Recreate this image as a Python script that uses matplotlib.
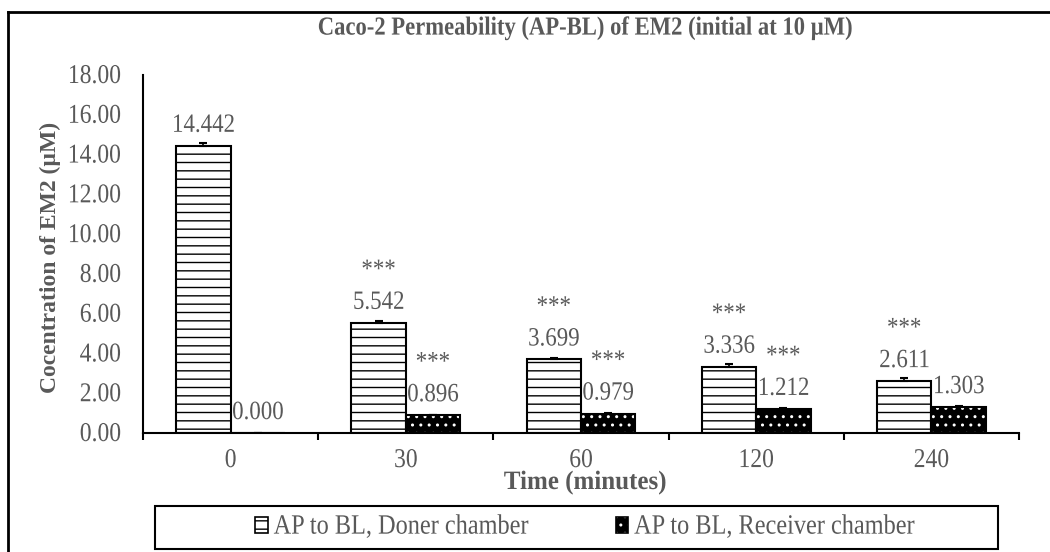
import matplotlib
matplotlib.use("Agg")
import matplotlib.pyplot as plt
from matplotlib.patches import Patch, Rectangle
from matplotlib.lines import Line2D
from matplotlib.legend_handler import HandlerTuple
from matplotlib.patheffects import AbstractPathEffect
from matplotlib.transforms import Affine2D
from matplotlib.text import Text
import numpy as np

# Data
times = ["0", "30", "60", "120", "240"]
donor = [14.442, 5.542, 3.699, 3.336, 2.611]
donor_err = [0.15, 0.08, 0.07, 0.12, 0.17]
receiver = [0.000, 0.896, 0.979, 1.212, 1.303]
receiver_err = [0.00, 0.03, 0.03, 0.03, 0.05]
donor_sig = ["", "***", "***", "***", "***"]
receiver_sig = ["", "***", "***", "***", ""]
y_ticks = [0, 2, 4, 6, 8, 10, 12, 14, 16, 18]

GRAY = "#595959"
FONT = "Liberation Serif"
plt.rcParams["font.family"] = [FONT, "DejaVu Serif"]
plt.rcParams["hatch.linewidth"] = 1.0


class VStretch(AbstractPathEffect):
    """Stretch glyphs vertically (in the text's own frame) from the baseline."""

    def __init__(self, sy):
        super().__init__()
        self.sy = sy

    def draw_path(self, renderer, gc, tpath, affine, rgbFace=None):
        renderer.draw_path(gc, tpath, Affine2D().scale(1, self.sy) + affine, rgbFace)


W, H = 1050, 552
fig = plt.figure(figsize=(W / 100, H / 100), dpi=100)


def fx(px):
    return px / W


def fy(py):
    return 1 - py / H


ax = fig.add_axes([fx(143), fy(433), fx(1019) - fx(143), fy(75) - fy(433)])

x = np.arange(len(times))
bw = 0.31

# Donor chamber: white bars with horizontal lines
ax.bar(x - bw / 2, donor, bw, facecolor="white", edgecolor="black",
       hatch="--", linewidth=1.5, zorder=2)
# Receiver chamber: black bars with white dots, outlined in black
ax.bar(x + bw / 2, receiver, bw, facecolor="black", edgecolor="white",
       hatch="..", linewidth=0, zorder=2)
ax.bar(x + bw / 2, receiver, bw, facecolor="none", edgecolor="black",
       linewidth=1.5, zorder=3)

# Error bars (upper only)
ax.errorbar(x - bw / 2, donor, yerr=[np.zeros(len(donor)), donor_err],
            fmt="none", ecolor="black", elinewidth=1.2, capsize=3,
            capthick=1.5, zorder=4)
ax.errorbar(x + bw / 2, receiver, yerr=[np.zeros(len(receiver)), receiver_err],
            fmt="none", ecolor="black", elinewidth=1.2, capsize=3,
            capthick=1.5, zorder=4)

# Value labels and significance marks
LABEL_FS = 16.5
for xs, vals, sigs in ((x - bw / 2, donor, donor_sig),
                       (x + bw / 2, receiver, receiver_sig)):
    for xi, v, s in zip(xs, vals, sigs):
        ax.annotate(f"{v:.3f}", (xi, v), xytext=(0, 14),
                    textcoords="offset points", ha="center", va="center",
                    fontsize=LABEL_FS, color=GRAY)
        if s:
            ax.annotate(s, (xi, v), xytext=(0, 37), textcoords="offset points",
                        ha="center", va="center", fontsize=LABEL_FS, color=GRAY)

ax.set_xlim(-0.5, len(times) - 0.5)
ax.set_ylim(0, 18)
ax.set_yticks(y_ticks)
ax.set_yticklabels([f"{t:.2f}" for t in y_ticks])
ax.set_xticks(x)
ax.set_xticklabels(times)
ax.set_xticks(np.arange(len(times) + 1) - 0.5, minor=True)
ax.tick_params(axis="y", length=0, pad=16, labelsize=17, labelcolor=GRAY)
ax.tick_params(axis="x", which="major", length=0, pad=13, labelsize=17,
               labelcolor=GRAY)
ax.tick_params(axis="x", which="minor", length=5, width=1.5, color="black")
for side in ("top", "right"):
    ax.spines[side].set_visible(False)
for side in ("left", "bottom"):
    ax.spines[side].set_linewidth(1.5)
    ax.spines[side].set_color("black")

# Axis titles
ax.set_ylabel("Cocentration of EM2 (\u00b5M)", fontsize=17, fontweight="bold",
              color=GRAY, labelpad=5)
ax.yaxis.label.set_y(0.49)

# Legend box
fig.add_artist(Rectangle((fx(155), fy(549)), fx(998) - fx(155), fy(506) - fy(549),
                         transform=fig.transFigure, facecolor="white",
                         edgecolor="black", linewidth=1.5))
h_donor = Patch(facecolor="white", edgecolor="black", hatch="--", linewidth=1.2)
h_rec_fill = Patch(facecolor="black", edgecolor="white", hatch="..", linewidth=0)
h_rec_edge = Patch(facecolor="none", edgecolor="black", linewidth=1.2)
leg = fig.legend([h_donor, (h_rec_fill, h_rec_edge)],
                 ["AP to BL, Doner chamber", "AP to BL, Receiver chamber"],
                 handler_map={tuple: HandlerTuple(ndivide=1)},
                 loc="center", bbox_to_anchor=(fx(585), fy(528)),
                 ncol=2, frameon=False, fontsize=17.5, handlelength=0.5,
                 handleheight=0.6, handletextpad=0.25, columnspacing=3.6,
                 labelcolor=GRAY)

# Tall, narrow lettering for the horizontal text elements
for t in fig.findobj(Text):
    if t.get_rotation() == 0:
        t.set_path_effects([VStretch(1.15)])

fig.text(fx(585), fy(29), "Caco-2 Permeability (AP-BL) of EM2 (initial at 10 \u00b5M)",
         ha="center", va="center", fontsize=16.3, fontweight="bold", color=GRAY,
         path_effects=[VStretch(1.15)])
fig.text(fx(585), fy(489), "Time (minutes)", ha="center", va="baseline",
         fontsize=18, fontweight="bold", color=GRAY,
         path_effects=[VStretch(1.06)])

# Outer frame (top and left edges)
fig.add_artist(Line2D([fx(8), 1.0], [fy(12), fy(12)], transform=fig.transFigure,
                      color="black", linewidth=2))
fig.add_artist(Line2D([fx(8), fx(8)], [0.0, fy(12)], transform=fig.transFigure,
                      color="black", linewidth=2))

fig.savefig("out.png", dpi=100)
